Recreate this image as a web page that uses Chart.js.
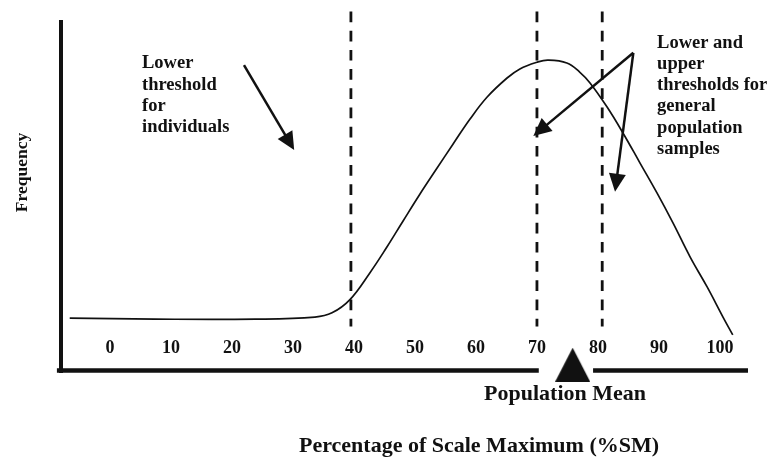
<!DOCTYPE html>
<html><head><meta charset="utf-8">
<script src="https://cdn.jsdelivr.net/npm/chart.js@4/dist/chart.umd.min.js"></script>
<style>html,body{margin:0;padding:0;background:#fff}#wrap{width:770px;height:457px;position:relative}</style>
</head><body><div id="wrap"><canvas id="c"></canvas></div>
<script>
// ---- data ----
const xTicks = [0, 10, 20, 30, 40, 50, 60, 70, 80, 90, 100];
const curveX = [-6.6, 7.4, 23.8, 33.6, 36.4, 39.3, 42.6, 45.4, 48.0, 50.8, 53.6, 56.2, 59.0, 61.8, 65.1, 67.2, 70.0, 71.8, 74.9, 77.0, 78.7, 81.5, 84.1, 86.9, 89.7, 92.3, 95.1, 97.9, 100.5, 102.1];
const curveY = [15.4, 15.1, 15.1, 15.7, 16.9, 20.6, 28.3, 35.7, 43.0, 50.8, 58.2, 65.0, 72.2, 78.5, 84.0, 86.6, 88.5, 89.1, 88.3, 85.7, 82.6, 75.7, 68.3, 59.7, 51.1, 42.6, 32.9, 24.3, 15.7, 10.6];
const thresholdX = [39.5, 70.0, 80.7];
const populationMean = 75.85;

// ---- styling / layout ----
const INK = '#111111';
const SERIF = "'Liberation Serif', 'Times New Roman', Times, serif";
const X_MIN = -8.03, X_MAX = 104.6;
const AXIS_Y = 0.43;            // level of the drawn x-axis line
const TICK_ROW_Y = 9.94;        // level where tick labels hang
const THRESH_TOP = 103, THRESH_BOTTOM = 13;
const AXIS_LEFT = -8.7, GAP_LEFT = 70.3, GAP_RIGHT = 79.2;

const notes = [
  {x: 5.25, y: 86.8, size: 18.5, align: 'left', gap: 21.3, lines: ['Lower', 'threshold', 'for', 'individuals']},
  {x: 89.7, y: 92.7, size: 18.5, align: 'left', gap: 21.3, lines: ['Lower and', 'upper', 'thresholds for', 'general', 'population', 'samples']},
  {x: 74.6, y: -8.0, size: 22, align: 'center', gap: 0, lines: ['Population Mean']},
  {x: 60.5, y: -22.8, size: 22, align: 'center', gap: 0, lines: ['Percentage of Scale Maximum (%SM)']},
  {x: -14.4, y: 57.0, size: 17.5, align: 'center', gap: 0, rotate: true, lines: ['Frequency']}
];
const arrows = [
  {from: [21.97, 87.7], to: [30.2, 63.4]},
  {from: [85.8, 91.2], to: [69.4, 67.4]},
  {from: [85.8, 91.2], to: [82.8, 51.5]}
];

// triangle marker image
function triangleImage(w, h) {
  const cv = document.createElement('canvas');
  cv.width = w; cv.height = h;
  const g = cv.getContext('2d');
  g.fillStyle = INK;
  g.beginPath(); g.moveTo(w / 2, 0); g.lineTo(w, h); g.lineTo(0, h); g.closePath(); g.fill();
  return cv;
}

const notePlugin = {
  id: 'notes',
  afterDatasetsDraw(chart) {
    const {ctx} = chart; const sx = chart.scales.x, sy = chart.scales.y;
    ctx.save();
    ctx.fillStyle = INK; ctx.strokeStyle = INK;
    notes.forEach(n => {
      ctx.font = `bold ${n.size}px ${SERIF}`;
      ctx.textAlign = n.align;
      const px = sx.getPixelForValue(n.x), py = sy.getPixelForValue(n.y);
      if (n.rotate) {
        ctx.save(); ctx.translate(px, py); ctx.rotate(-Math.PI / 2);
        ctx.textBaseline = 'middle'; ctx.fillText(n.lines[0], 0, 0); ctx.restore();
      } else {
        ctx.textBaseline = 'alphabetic';
        n.lines.forEach((t, i) => ctx.fillText(t, px, py + i * n.gap));
      }
    });
    const HEAD_L = 18, HEAD_W = 8.5;
    arrows.forEach(a => {
      const x1 = sx.getPixelForValue(a.from[0]), y1 = sy.getPixelForValue(a.from[1]);
      const x2 = sx.getPixelForValue(a.to[0]), y2 = sy.getPixelForValue(a.to[1]);
      const ang = Math.atan2(y2 - y1, x2 - x1);
      const bx = x2 - Math.cos(ang) * HEAD_L, by = y2 - Math.sin(ang) * HEAD_L;
      ctx.lineWidth = 2.5; ctx.lineCap = 'butt';
      ctx.beginPath(); ctx.moveTo(x1, y1); ctx.lineTo(bx + Math.cos(ang) * 2, by + Math.sin(ang) * 2); ctx.stroke();
      ctx.beginPath();
      ctx.moveTo(x2, y2);
      ctx.lineTo(bx - Math.sin(ang) * HEAD_W, by + Math.cos(ang) * HEAD_W);
      ctx.lineTo(bx + Math.sin(ang) * HEAD_W, by - Math.cos(ang) * HEAD_W);
      ctx.closePath(); ctx.fill();
    });
    ctx.restore();
  }
};

const datasets = [];
datasets.push({
  data: curveX.map((v, i) => ({x: v, y: curveY[i]})),
  borderColor: INK, borderWidth: 1.7, pointRadius: 0, tension: 0.4, fill: false
});
thresholdX.forEach(t => datasets.push({
  data: [{x: t, y: THRESH_TOP}, {x: t, y: THRESH_BOTTOM}],
  borderColor: INK, borderWidth: 2.8, borderDash: [10.7, 8.5], pointRadius: 0, clip: false, fill: false
}));
datasets.push({
  data: [{x: AXIS_LEFT, y: AXIS_Y}, {x: GAP_LEFT, y: AXIS_Y}],
  borderColor: INK, borderWidth: 4.5, pointRadius: 0, clip: false, fill: false
});
datasets.push({
  data: [{x: GAP_RIGHT, y: AXIS_Y}, {x: X_MAX, y: AXIS_Y}],
  borderColor: INK, borderWidth: 4.5, pointRadius: 0, clip: false, fill: false
});
datasets.push({
  data: [{x: populationMean, y: 2.09}],
  showLine: false, pointStyle: triangleImage(35, 34), pointRadius: 17, clip: false
});

new Chart(document.getElementById('c'), {
  type: 'line',
  data: {datasets},
  options: {
    responsive: true, maintainAspectRatio: false, animation: false,
    layout: {padding: {left: 61, top: 22, right: 22, bottom: 85}},
    plugins: {legend: {display: false}, tooltip: {enabled: false}},
    scales: {
      x: {
        type: 'linear', min: X_MIN, max: X_MAX,
        position: {y: TICK_ROW_Y},
        grid: {display: false, drawTicks: false},
        border: {display: false},
        afterBuildTicks: s => { s.ticks = xTicks.map(v => ({value: v})); },
        ticks: {padding: 0, autoSkip: false, maxRotation: 0, color: INK, font: {family: SERIF, size: 18, weight: 'bold'}}
      },
      y: {
        type: 'linear', min: 0, max: 100,
        grid: {display: false, drawTicks: false},
        border: {display: true, width: 4, color: INK},
        ticks: {display: false}
      }
    }
  },
  plugins: [notePlugin]
});
</script>
</body></html>
